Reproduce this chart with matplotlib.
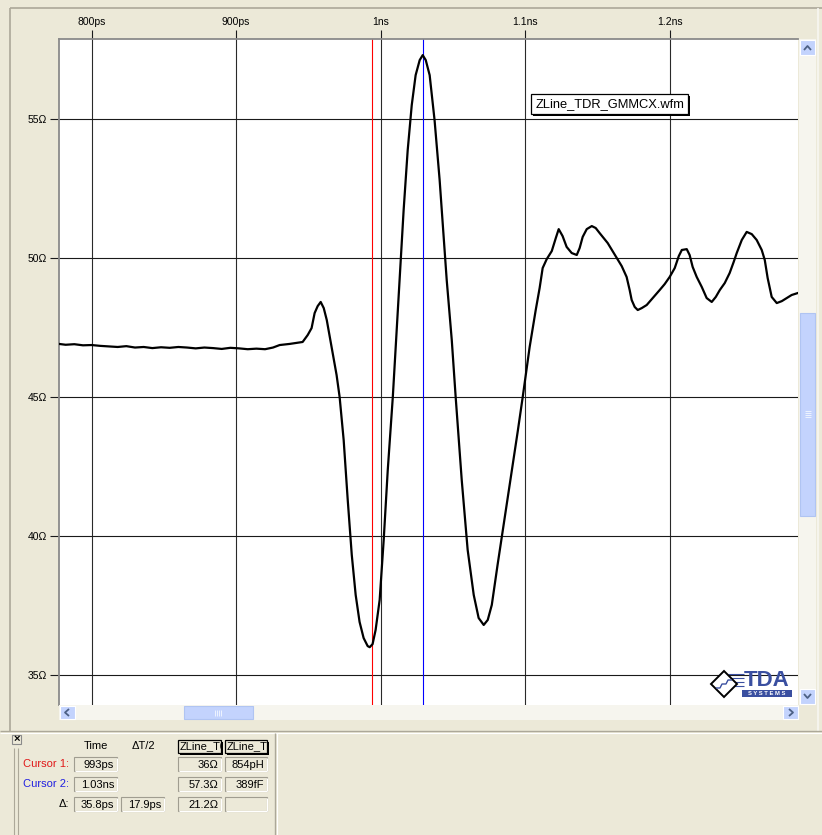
import matplotlib
matplotlib.use('Agg')
from matplotlib import pyplot as plt
from matplotlib.patches import Rectangle, Polygon
from matplotlib.lines import Line2D
from matplotlib.transforms import Affine2D

# TDR impedance trace (time in ps, impedance in ohm)
time_ps = [777.4, 782, 788, 794, 800, 806, 812, 818, 824, 830, 836, 842, 848,
           854, 860, 866, 872, 878, 884, 890, 896, 902, 908, 914, 920, 925.5,
           930.1, 937.0, 942.0, 946.0, 949.5, 952.2, 954.3, 956.4, 958.5,
           960.6, 962.7, 964.8, 966.8, 969.5, 971.6, 974.4, 977.2, 980.0,
           982.7, 985.4, 988.2, 991.0, 992.4, 994.4, 996.5, 999.3, 1002.1,
           1004.9, 1008.4, 1011.1, 1013.1, 1015.9, 1018.7, 1021.5, 1024.2,
           1027.0, 1029.1, 1031.2, 1033.9, 1037.3, 1040.8, 1045.7, 1049.2,
           1051.9, 1056.1, 1060.2, 1064.4, 1067.8, 1071.3, 1074.1, 1076.9,
           1080.9, 1085.8, 1090.7, 1094.9, 1098.3, 1103.1, 1107.3, 1110.0,
           1112.1, 1114.9, 1118.4, 1121.2, 1123.2, 1125.9, 1128.7, 1132.2,
           1135.7, 1137.7, 1139.8, 1142.6, 1146.1, 1148.8, 1151.5, 1157.1,
           1163.4, 1166.8, 1170.2, 1172.3, 1173.7, 1175.8, 1177.9, 1180.7,
           1184.1, 1188.3, 1193.1, 1196.5, 1200.0, 1203.5, 1206.3, 1208.4,
           1211.8, 1213.8, 1215.9, 1218.7, 1222.2, 1225.6, 1229.1, 1231.9,
           1234.7, 1238.1, 1241.5, 1244.3, 1246.4, 1249.9, 1253.3, 1256.8,
           1260.2, 1263.7, 1265.8, 1267.8, 1270.6, 1274.1, 1277.6, 1281.0,
           1284.4, 1288.6]
z_ohm = [46.91, 46.88, 46.90, 46.86, 46.87, 46.84, 46.82, 46.80, 46.83, 46.78,
         46.80, 46.76, 46.79, 46.77, 46.80, 46.78, 46.75, 46.78, 46.76, 46.73,
         46.77, 46.75, 46.72, 46.74, 46.72, 46.78, 46.87, 46.91, 46.95, 46.98,
         47.23, 47.48, 48.02, 48.27, 48.42, 48.20, 47.77, 47.16, 46.58, 45.79,
         45.00, 43.45, 41.30, 39.32, 37.88, 36.91, 36.33, 36.04, 36.00, 36.11,
         36.62, 37.70, 39.86, 42.37, 45.00, 47.41, 49.21, 51.73, 53.88, 55.50,
         56.58, 57.12, 57.30, 57.12, 56.58, 54.96, 52.81, 49.21, 47.05, 45.00,
         42.01, 39.50, 37.88, 37.05, 36.80, 36.98, 37.52, 38.96, 40.65, 42.34,
         43.78, 45.00, 46.80, 48.13, 48.92, 49.64, 49.96, 50.25, 50.72, 51.04,
         50.79, 50.40, 50.18, 50.11, 50.36, 50.76, 51.04, 51.15, 51.08, 50.90,
         50.54, 50.00, 49.71, 49.32, 48.85, 48.49, 48.24, 48.13, 48.20, 48.31,
         48.56, 48.85, 49.06, 49.32, 49.64, 50.07, 50.29, 50.32, 50.11, 49.68,
         49.32, 48.96, 48.56, 48.42, 48.60, 48.85, 49.10, 49.46, 49.86, 50.18,
         50.65, 50.94, 50.86, 50.65, 50.29, 49.93, 49.28, 48.60, 48.38, 48.45,
         48.56, 48.67, 48.74]

x_ticks = [800, 900, 1000, 1100, 1200]
x_tick_labels = ['800ps', '900ps', '1ns', '1.1ns', '1.2ns']
y_ticks = [35, 40, 45, 50, 55]
y_tick_labels = ['35Ω', '40Ω', '45Ω', '50Ω', '55Ω']

cursor1_t = 993.8
cursor2_t = 1029.6
trace_name = 'ZLine_TDR_GMMCX.wfm'

# cursor readout panel
header_labels = ['Time', 'ΔT/2']
channel_labels = ['ZLine_T0', 'ZLine_T0']
row_labels = ['Cursor 1:', 'Cursor 2:', 'Δ:']
row_colors = ['#e01818', '#2020e0', '#000000']
row_values = [['993ps', None, '36Ω', '854pH'],
              ['1.03ns', None, '57.3Ω', '389fF'],
              ['35.8ps', '17.9ps', '21.2Ω', '']]

W, H = 822, 835
BG = '#ece9d8'
plt.rcParams['font.family'] = ['Liberation Sans', 'DejaVu Sans']

fig = plt.figure(figsize=(W / 100, H / 100), dpi=100, facecolor=BG)
# pixel coordinates, origin top-left
pix = Affine2D().scale(1 / W, -1 / H).translate(0, 1) + fig.transFigure


def box(x0, y0, x1, y1, fc='none', ec='none', lw=0.72, z=1):
    r = Rectangle((x0, y0), x1 - x0, y1 - y0, transform=pix, fc=fc, ec=ec,
                  lw=lw, zorder=z)
    fig.add_artist(r)
    return r


def line(xs, ys, c='k', lw=0.72, z=2):
    fig.add_artist(Line2D(xs, ys, transform=pix, color=c, lw=lw, zorder=z,
                          solid_capstyle='butt'))


def label(x, y, s, **kw):
    kw.setdefault('fontsize', 8)
    kw.setdefault('va', 'center')
    return fig.text(x, y, s, transform=pix, **kw)


# window frame
line([10, 10], [8, 731], c='#aca899', lw=1.2)
line([10, 822], [8, 8], c='#aca899', lw=1.2)
line([818, 818], [8, 731], c='#f8f7f2', lw=1.2)
line([0, 822], [731, 731], c='#aca899', lw=1.0)
line([0, 822], [732.5, 732.5], c='white', lw=0.8)

# main plot
x0_px, x1_px, y0_px, y1_px = 59, 798, 39, 705
ax = fig.add_axes([x0_px / W, 1 - y1_px / H, (x1_px - x0_px) / W,
                   (y1_px - y0_px) / H])
ax.set_facecolor('white')
ax.set_xlim(777.4, 1288.8)
ax.set_ylim(33.92, 57.88)

for t in x_ticks:
    ax.axvline(t, color='#2a2a2a', lw=0.8, zorder=1)
for z in y_ticks:
    ax.axhline(z, color='#1a1a1a', lw=0.8, zorder=1)

ax.axvline(cursor1_t, color='#ff0000', lw=0.8, zorder=2)
ax.axvline(cursor2_t, color='#0000ff', lw=0.8, zorder=2)
ax.plot(time_ps, z_ohm, color='black', lw=1.6, zorder=3)

ax.xaxis.tick_top()
ax.set_xticks(x_ticks)
ax.set_xticklabels(x_tick_labels)
ax.set_yticks(y_ticks)
ax.set_yticklabels(y_tick_labels)
ax.tick_params(axis='both', length=6.5, width=0.8, color='#1a1a1a',
               labelsize=7.5, pad=2)
for side in ['left', 'top']:
    ax.spines[side].set_color('#8a8a8a')
    ax.spines[side].set_linewidth(1.3)
for side in ['right', 'bottom']:
    ax.spines[side].set_visible(False)

# trace legend
box(533, 96, 690, 116, fc='black', z=5)
box(531, 94, 688, 114, fc='white', ec='black', lw=0.9, z=6)
label(536, 104.5, trace_name, fontsize=9.3, zorder=7)

# TDA logo
for yy in [674, 678, 682, 686]:
    line([728, 744], [yy, yy], c='#3a4fa0', lw=0.8, z=8)
fig.add_artist(Polygon([(724, 671), (737, 684), (724, 697), (711, 684)],
                       closed=True, transform=pix, fc='white', ec='black',
                       lw=1.4, zorder=9))
line([716, 720, 722, 726, 728, 732], [688, 688, 684, 684, 680, 680],
     c='#3a4fa0', lw=1.0, z=10)
label(767, 680, 'TDA', fontsize=16, fontweight='bold', color='#3a4fa0',
      ha='center', zorder=9)
box(742, 690, 792, 697, fc='#3a4fa0', z=9)
label(767, 693.5, 'S Y S T E M S', fontsize=4.2, color='white', ha='center',
      fontweight='bold', zorder=10)

# scrollbars
SB = '#c3d3fd'
SB_EDGE = '#b0c4f2'
ARROW = '#4d6185'
box(59, 705, 799, 720, fc='#f6f5ee', z=1)
box(799, 39, 816, 705, fc='#f6f5ee', z=1)
box(799, 705, 816, 720, fc=BG, z=1)
# horizontal
box(60, 706, 75, 719, fc=SB, ec='white', lw=0.8, z=2)
line([69, 65, 69], [709, 712.5, 716], c=ARROW, lw=1.3, z=3)
box(783, 706, 798, 719, fc=SB, ec='white', lw=0.8, z=2)
line([789, 793, 789], [709, 712.5, 716], c=ARROW, lw=1.3, z=3)
box(184, 706, 253, 719, fc=SB, ec=SB_EDGE, lw=0.8, z=2)
for xx in [215, 217, 219, 221]:
    line([xx, xx], [709.5, 715.5], c='#eef3ff', lw=0.7, z=3)
# vertical
box(800, 40, 815, 55, fc=SB, ec='white', lw=0.8, z=2)
line([804, 807.5, 811], [50, 46, 50], c=ARROW, lw=1.3, z=3)
box(800, 689, 815, 704, fc=SB, ec='white', lw=0.8, z=2)
line([804, 807.5, 811], [694, 698, 694], c=ARROW, lw=1.3, z=3)
box(800, 313, 815, 516, fc=SB, ec=SB_EDGE, lw=0.8, z=2)
for yy in [411, 413, 415, 417]:
    line([804.5, 810.5], [yy, yy], c='#eef3ff', lw=0.7, z=3)

# readout panel
box(12, 735, 21, 744, fc=BG, ec='#8a8a8a', lw=0.8)
label(16.5, 739.3, '×', fontsize=8, fontweight='bold', ha='center')
line([14, 14], [748, 835], c='#aca899', lw=0.8)
line([17.5, 17.5], [748, 835], c='#aca899', lw=0.8)
line([275, 275], [733, 835], c='#aca899', lw=1.0)
line([276.5, 276.5], [733, 835], c='white', lw=0.8)

col_x = [(74, 117), (121, 164), (178, 221), (225, 267)]
row_y = [(757, 771), (777, 791), (797, 811)]

label(96, 746, header_labels[0], ha='center')
label(143, 746, header_labels[1], ha='center')
for (cx0, cx1), name in zip(col_x[2:], channel_labels):
    box(cx0 + 1.5, 740 + 1.5, cx1 + 1.5, 753 + 1.5, fc='black', z=2)
    frame = box(cx0, 740, cx1, 753, fc=BG, ec='black', lw=0.9, z=3)
    tx = label(cx0 + 1.5, 746.5, name, ha='left', zorder=4)
    tx.set_clip_path(frame)

for (ry0, ry1), name, color, values in zip(row_y, row_labels, row_colors,
                                           row_values):
    label(69, (ry0 + ry1) / 2, name, ha='right', color=color)
    for (cx0, cx1), val in zip(col_x, values):
        if val is None:
            continue
        box(cx0, ry0, cx1, ry1, fc=BG, ec='#a09d90', lw=0.8, z=2)
        line([cx0 + 1, cx1], [ry1 - 0.5, ry1 - 0.5], c='white', lw=0.8, z=3)
        line([cx1 - 0.5, cx1 - 0.5], [ry0 + 1, ry1], c='white', lw=0.8, z=3)
        if val:
            label(cx1 - 3, (ry0 + ry1) / 2 + 0.5, val, ha='right', zorder=4)

fig.savefig('out.png', dpi=100, facecolor=BG)
